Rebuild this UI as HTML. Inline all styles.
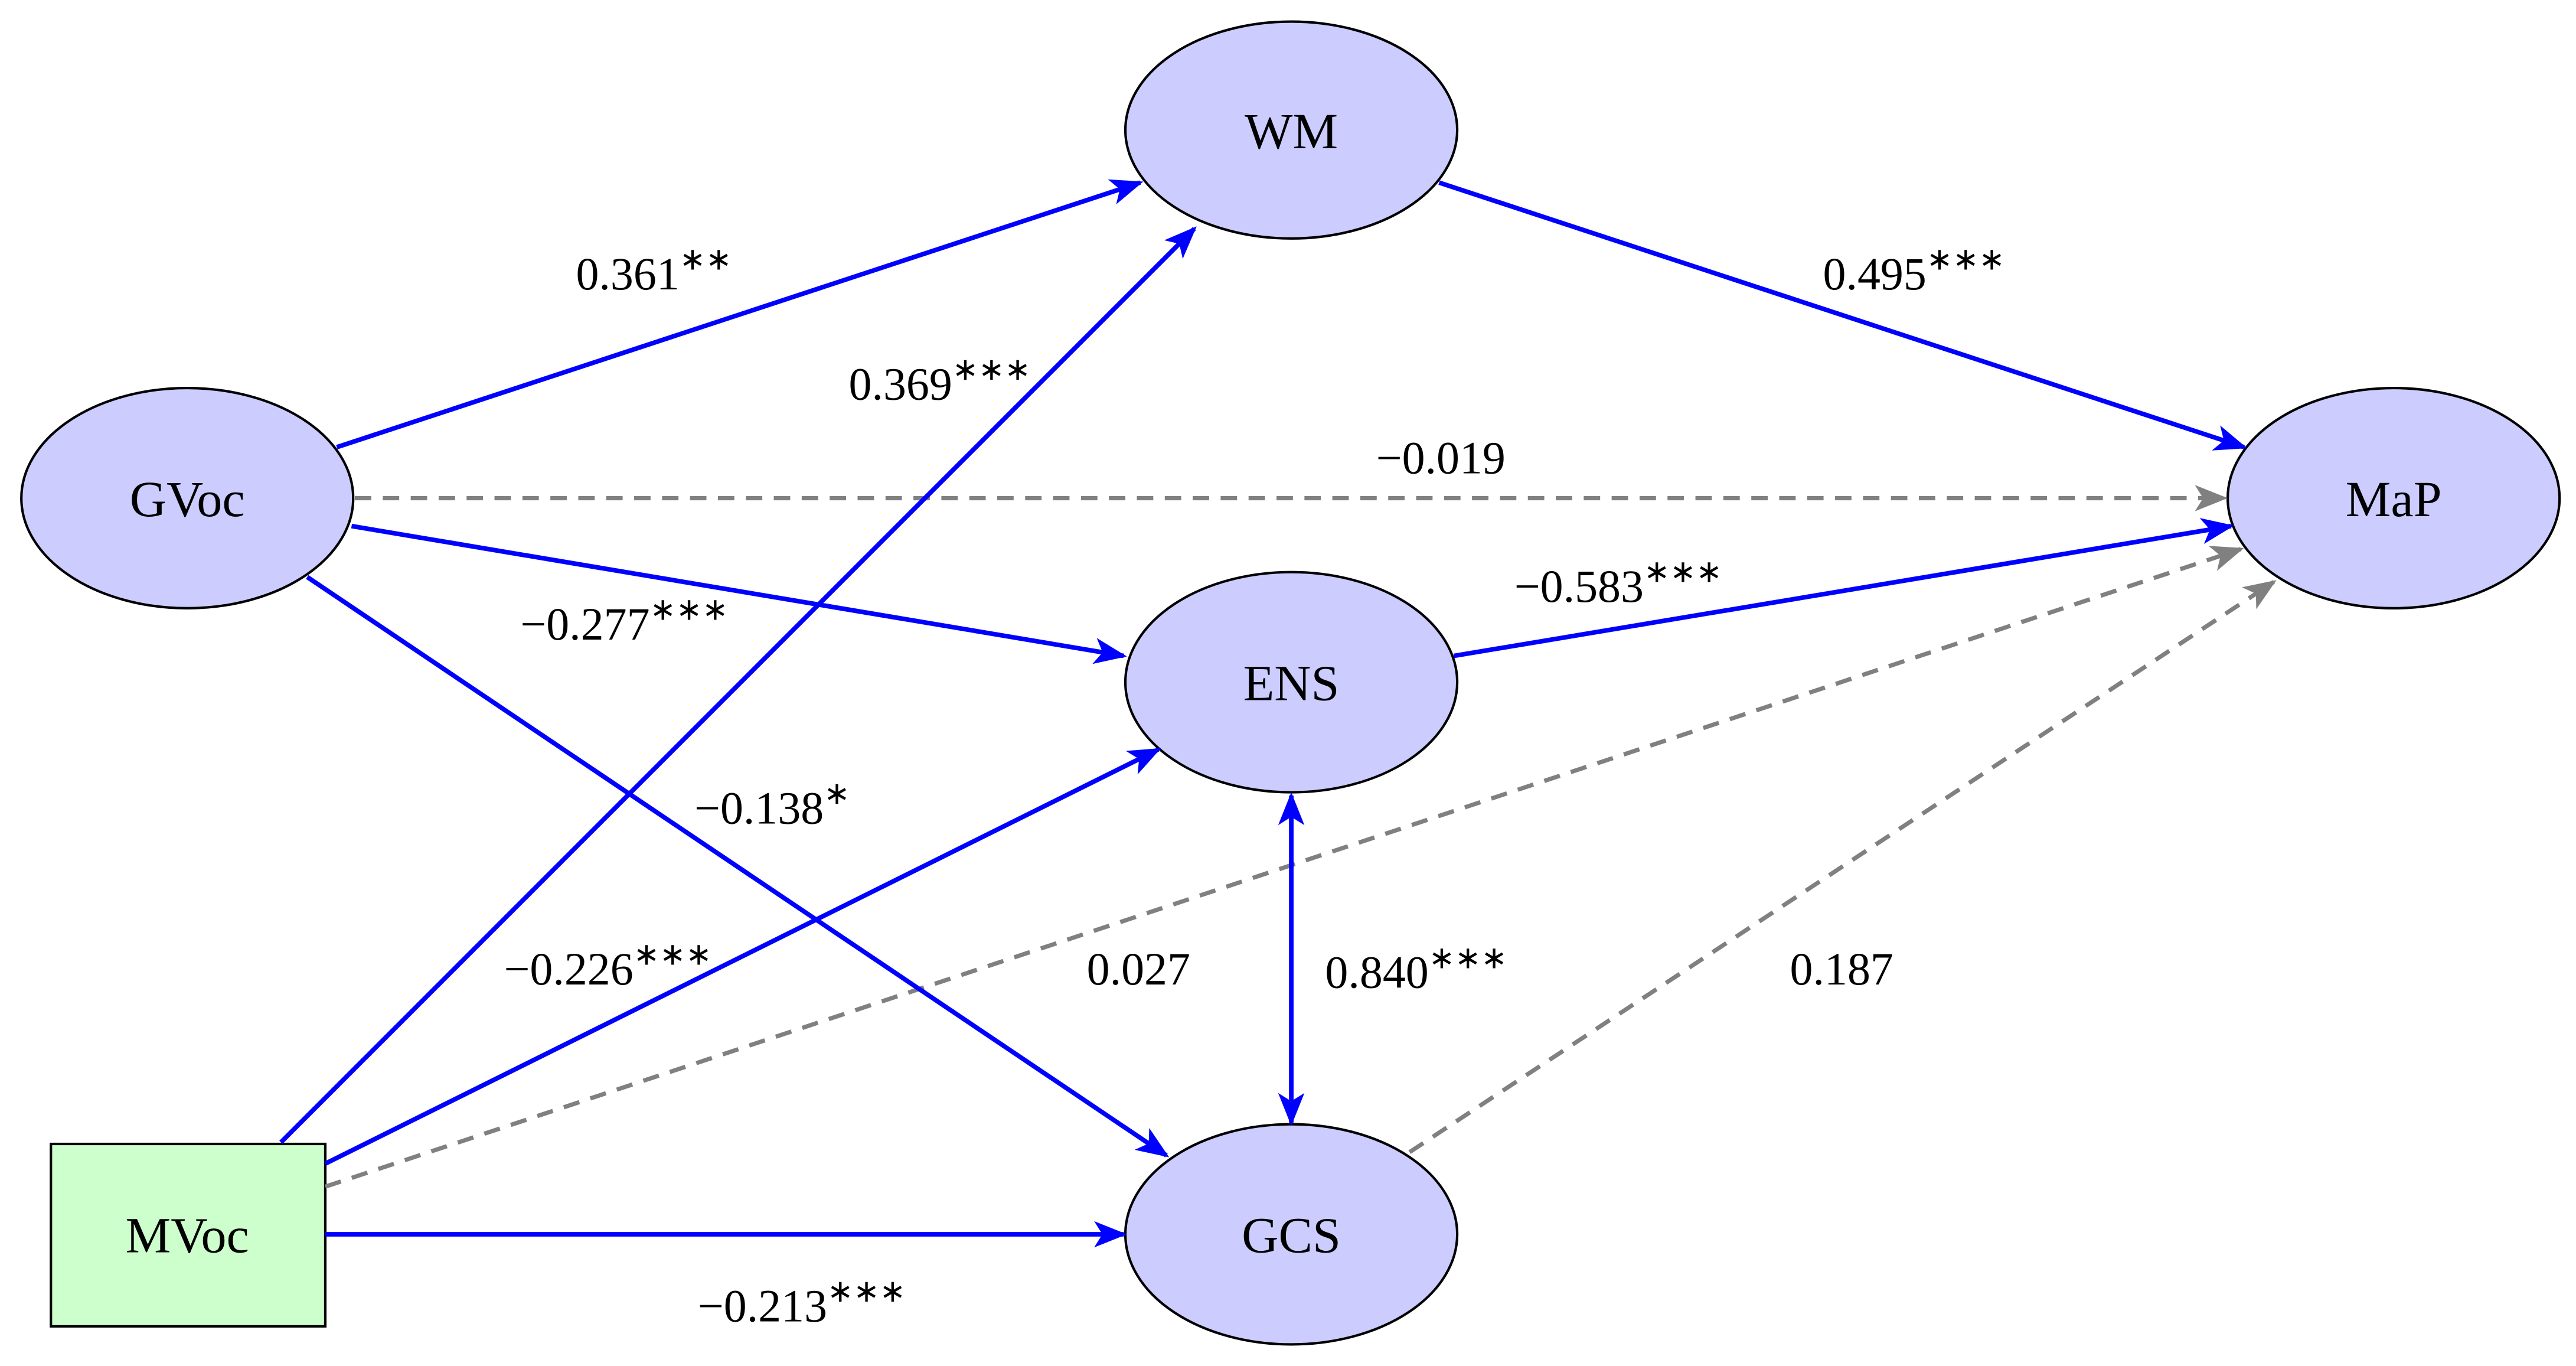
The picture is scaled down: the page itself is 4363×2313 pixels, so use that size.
<!DOCTYPE html>
<html><head><meta charset="utf-8"><style>
html,body{margin:0;padding:0;background:#fff}
svg{display:block}
text{font-family:"Liberation Serif",serif;fill:#000}
</style></head><body>
<svg width="4363" height="2313" viewBox="0 0 1568 831" xmlns="http://www.w3.org/2000/svg">
<defs>
<marker id="b" viewBox="0 0 20 16" refX="18" refY="8" markerWidth="20" markerHeight="16" markerUnits="userSpaceOnUse" orient="auto-start-reverse">
<path d="M0,0 L20,8 L0,16 L5,8 Z" fill="#0000ff"/></marker>
<marker id="g" viewBox="0 0 20 16" refX="18" refY="8" markerWidth="20" markerHeight="16" markerUnits="userSpaceOnUse" orient="auto">
<path d="M0,0 L20,8 L0,16 L5,8 Z" fill="#808080"/></marker>
</defs>
<g fill="#ccccff" stroke="#000" stroke-width="1.5">
<ellipse cx="786" cy="79" rx="101" ry="66"/>
<ellipse cx="114" cy="303" rx="101" ry="67"/>
<ellipse cx="1457" cy="303" rx="101" ry="67"/>
<ellipse cx="786" cy="415" rx="101" ry="67"/>
<ellipse cx="786" cy="751" rx="101" ry="67"/>
</g>
<rect x="31" y="696" width="167" height="111" fill="#ccffcc" stroke="#000" stroke-width="1.5"/>
<g stroke="#808080" stroke-width="2.6" stroke-dasharray="10,7" fill="none">
<line x1="216" y1="303" x2="1354" y2="303" marker-end="url(#g)"/>
<line x1="198" y1="722" x2="1364" y2="334" marker-end="url(#g)"/>
<line x1="858" y1="701" x2="1384" y2="354" marker-end="url(#g)"/>
</g>
<g stroke="#0000ff" stroke-width="2.8" fill="none">
<line x1="205" y1="272" x2="694" y2="111" marker-end="url(#b)"/>
<line x1="171" y1="695" x2="727" y2="139" marker-end="url(#b)"/>
<line x1="876" y1="111" x2="1366" y2="272" marker-end="url(#b)"/>
<line x1="214" y1="320" x2="684" y2="399" marker-end="url(#b)"/>
<line x1="885" y1="399" x2="1358" y2="320" marker-end="url(#b)"/>
<line x1="187" y1="351" x2="710" y2="703" marker-end="url(#b)"/>
<line x1="198" y1="708" x2="705" y2="456" marker-end="url(#b)"/>
<line x1="786" y1="484" x2="786" y2="683" marker-start="url(#b)" marker-end="url(#b)"/>
<line x1="198" y1="751" x2="684" y2="751" marker-end="url(#b)"/>
</g>
<g font-size="31" text-anchor="middle">
<text x="786" y="90">WM</text>
<text x="114" y="314">GVoc</text>
<text x="1457" y="314">MaP</text>
<text x="786" y="426">ENS</text>
<text x="786" y="762">GCS</text>
<text x="114" y="762">MVoc</text>
</g>
<g font-size="28" text-anchor="middle">
<text x="398" y="176">0.361<tspan font-size="19" dy="-12">∗∗</tspan></text>
<text x="572" y="243">0.369<tspan font-size="19" dy="-12">∗∗∗</tspan></text>
<text x="1165" y="176">0.495<tspan font-size="19" dy="-12">∗∗∗</tspan></text>
<text x="877" y="288">−0.019</text>
<text x="380" y="389">−0.277<tspan font-size="19" dy="-12">∗∗∗</tspan></text>
<text x="985" y="366">−0.583<tspan font-size="19" dy="-12">∗∗∗</tspan></text>
<text x="470" y="501">−0.138<tspan font-size="19" dy="-12">∗</tspan></text>
<text x="370" y="599">−0.226<tspan font-size="19" dy="-12">∗∗∗</tspan></text>
<text x="693" y="599">0.027</text>
<text x="862" y="601">0.840<tspan font-size="19" dy="-12">∗∗∗</tspan></text>
<text x="1121" y="599">0.187</text>
<text x="488" y="804">−0.213<tspan font-size="19" dy="-12">∗∗∗</tspan></text>
</g>
</svg>
</body></html>
